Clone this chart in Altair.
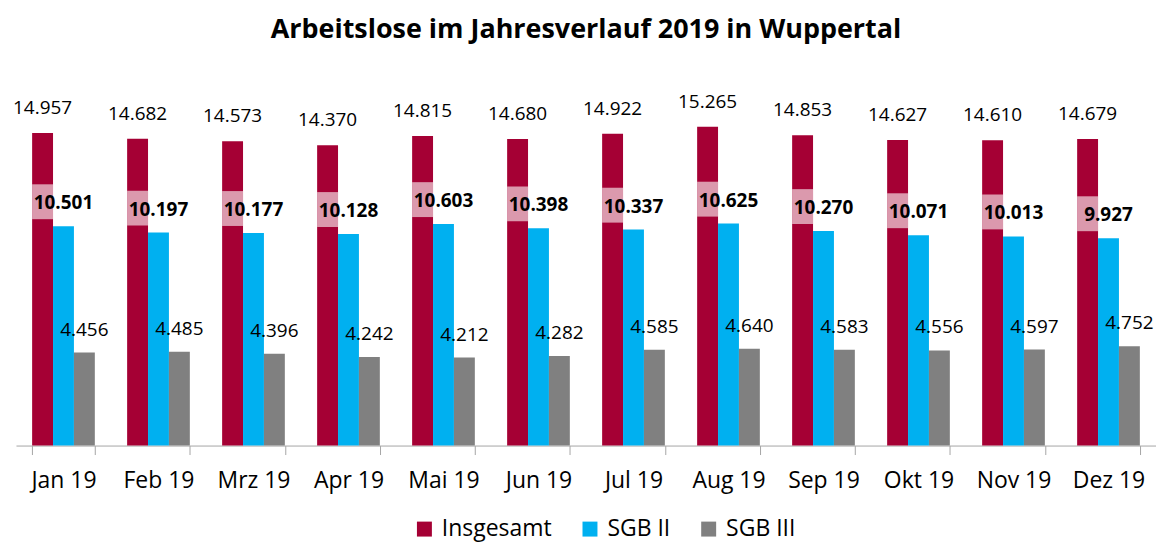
import altair as alt
import pandas as pd

months = ["Jan 19", "Feb 19", "Mrz 19", "Apr 19", "Mai 19", "Jun 19",
          "Jul 19", "Aug 19", "Sep 19", "Okt 19", "Nov 19", "Dez 19"]
insgesamt = [14957, 14682, 14573, 14370, 14815, 14680, 14922, 15265, 14853, 14627, 14610, 14679]
sgb2 = [10501, 10197, 10177, 10128, 10603, 10398, 10337, 10625, 10270, 10071, 10013, 9927]
sgb3 = [4456, 4485, 4396, 4242, 4212, 4282, 4585, 4640, 4583, 4556, 4597, 4752]
series = ["Insgesamt", "SGB II", "SGB III"]
colors = ["#A50034", "#00B0F0", "#808080"]

FONT = "Open Sans"

rows = []
for i, m in enumerate(months):
    for s, vals in zip(series, [insgesamt, sgb2, sgb3]):
        v = vals[i]
        rows.append({"month": m, "series": s, "value": v,
                     "label": f"{v:,}".replace(",", ".")})
df = pd.DataFrame(rows)

# white semi-transparent label box behind the SGB II label, visible over the red bar
box = pd.DataFrame({"month": months, "series": ["Insgesamt"] * 12,
                    "lo": [v + 335 for v in sgb2], "hi": [v + 2005 for v in sgb2]})

x = alt.X("month:N", sort=months, title=None,
          scale=alt.Scale(paddingInner=0.34, paddingOuter=0.17),
          axis=alt.Axis(labelAngle=0, labelFontSize=23, labelFont=FONT, labelColor="#000000",
                        domainColor="#A6A6A6", tickColor="#A6A6A6", tickSize=9,
                        tickBand="extent", labelPadding=15))
xo = alt.XOffset("series:N", sort=series, scale=alt.Scale(paddingInner=0, paddingOuter=0))
yscale = alt.Scale(domain=[0, 18000], nice=False, zero=True)

bars = alt.Chart(df).mark_bar().encode(
    x=x, xOffset=xo,
    y=alt.Y("value:Q", scale=yscale, axis=None),
    color=alt.Color("series:N", sort=series,
                    scale=alt.Scale(domain=series, range=colors),
                    legend=alt.Legend(title=None, orient="none", direction="horizontal",
                                      legendX=398, legendY=449,
                                      symbolType="square", symbolSize=225, symbolStrokeWidth=0,
                                      labelFontSize=23, labelFont=FONT, labelColor="#000000",
                                      labelOffset=6, columnPadding=26, symbolOffset=0)),
)

boxes = alt.Chart(box).mark_bar(color="#FFFFFF", opacity=0.6).encode(
    x=x, xOffset=xo,
    y=alt.Y("lo:Q", scale=yscale, axis=None), y2="hi:Q",
)

def labels(s, dy, bold=False):
    return alt.Chart(df).transform_filter(alt.datum.series == s).mark_text(
        dy=dy, baseline="middle", align="center", fontSize=19, font=FONT,
        fontWeight="bold" if bold else "normal", color="#000000"
    ).encode(x=x, xOffset=xo, y=alt.Y("value:Q", scale=yscale, axis=None), text="label:N")

chart = alt.layer(
    bars, boxes,
    labels("Insgesamt", -25),
    labels("SGB II", -23, True),
    labels("SGB III", -23),
).properties(
    width=1143, height=377,
    title=alt.TitleParams("Arbeitslose im Jahresverlauf 2019 in Wuppertal",
                          fontSize=27, font=FONT, fontWeight="bold", color="#000000",
                          anchor="middle", offset=26),
    padding={"left": 5, "top": 7, "right": 0, "bottom": 0},
).configure_view(stroke=None)

chart.save("out.html", embed_options={"renderer": "svg", "actions": False})
